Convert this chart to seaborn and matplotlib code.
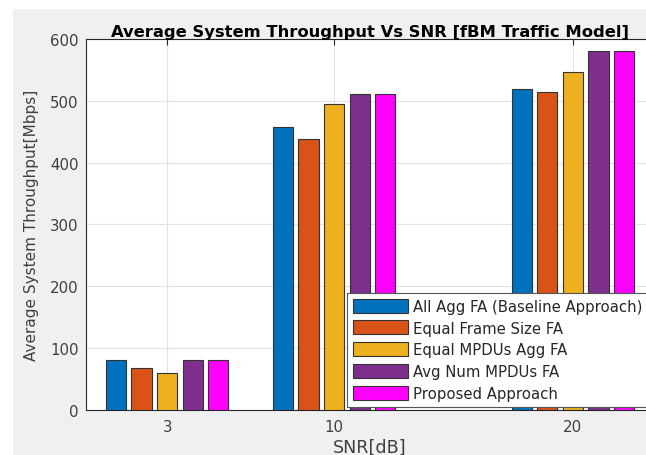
import matplotlib
matplotlib.use("Agg")
import matplotlib.pyplot as plt
from matplotlib.patches import Rectangle
import seaborn as sns
import pandas as pd

# ---- data ----
snr_db = [3, 10, 20]
methods = [
    "All Agg FA (Baseline Approach)",
    "Equal Frame Size FA",
    "Equal MPDUs Agg FA",
    "Avg Num MPDUs FA",
    "Proposed Approach",
]
all_agg = [80, 457, 519]
equal_frame = [68, 438, 514]
equal_mpdus = [59, 495, 546]
avg_num = [80, 511, 580]
proposed = [80, 511, 580]
colors = ["#0072BD", "#D95319", "#EDB120", "#7E2F8E", "#FF00FF"]
y_ticks = [0, 100, 200, 300, 400, 500, 600]

series = [all_agg, equal_frame, equal_mpdus, avg_num, proposed]
rows = []
for m, vals in zip(methods, series):
    for s, v in zip(snr_db, vals):
        rows.append({"SNR": s, "Method": m, "Throughput": v})
df = pd.DataFrame(rows)

sns.set_theme(style="white")
plt.rcParams["font.family"] = ["DejaVu Sans"]

W, H = 646, 456
fig = plt.figure(figsize=(W / 100, H / 100), dpi=100, facecolor="white")
fig.patches.append(Rectangle((13 / W, 0), 1, 1 - 10 / H, transform=fig.transFigure,
                             facecolor="#F0F0F0", edgecolor="none", zorder=-10))

left, right, top, bottom = 86, 654, 40, 410.7
ax = fig.add_axes([left / W, (H - bottom) / H, (right - left) / W, (bottom - top) / H])
ax.set_facecolor("white")

sns.barplot(data=df, x="SNR", y="Throughput", hue="Method", hue_order=methods,
            palette=colors, native_scale=True, width=0.766, gap=0.21,
            edgecolor="#333333", linewidth=0.8, saturation=1, ax=ax, zorder=3)

ax.set_xlim(-0.4, 23.4)
ax.set_ylim(0, 600)
ax.set_xticks(snr_db)
ax.set_xticklabels([str(s) for s in snr_db])
ax.set_yticks(y_ticks)
ax.grid(True, color="#E3E3E3", linewidth=0.8, zorder=0)
ax.set_axisbelow(True)
for sp in ax.spines.values():
    sp.set_color("#262626")
    sp.set_linewidth(0.8)
ax.tick_params(axis="both", direction="in", length=4, width=0.8, color="#262626",
               labelsize=10.8, labelcolor="#404040", top=True, right=True)
ax.tick_params(axis="x", pad=7)
ax.tick_params(axis="y", pad=5.5)

ax.set_xlabel("SNR[dB]", fontsize=12.6, color="#404040", va="center")
ax.set_ylabel("Average System Throughput[Mbps]", fontsize=11, color="#404040", va="center")
ax.xaxis.set_label_coords(0.5, -(448 - bottom) / (bottom - top))
ax.yaxis.set_label_coords((32 - left) / (right - left), 0.5)

ax.set_title("Average System Throughput Vs SNR [fBM Traffic Model]", fontsize=11.8,
             fontweight="bold", color="black", pad=2.5)

leg = ax.legend(loc="lower left", bbox_to_anchor=(347 / W, (H - 408) / H),
                bbox_transform=fig.transFigure, fontsize=10.7, frameon=True,
                fancybox=False, edgecolor="#555555", facecolor="white", framealpha=1,
                handlelength=3.7, handleheight=1.07, handletextpad=0.3,
                labelspacing=0.45, borderpad=0.42, borderaxespad=0, title=None)
leg.get_frame().set_linewidth(0.8)

fig.savefig("out.png", dpi=100, facecolor=fig.get_facecolor())
